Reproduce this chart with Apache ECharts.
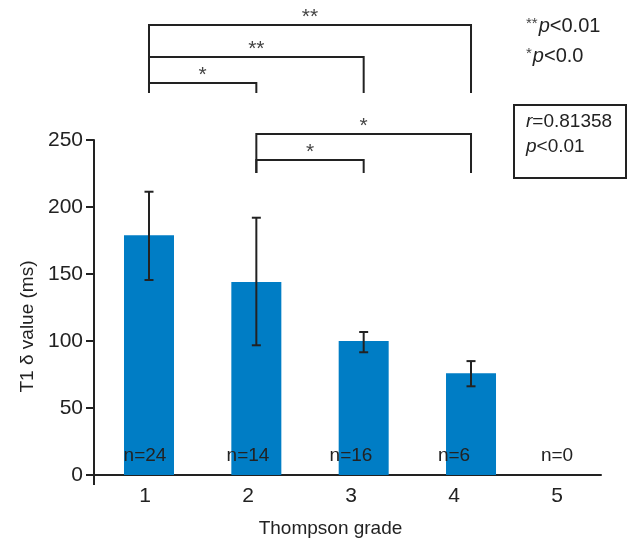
<!DOCTYPE html>
<html><head><meta charset="utf-8">
<script src="https://cdn.jsdelivr.net/npm/echarts@6/dist/echarts.min.js"></script>
<style>html,body{margin:0;padding:0;background:#fff}#c{width:627px;height:543px}</style>
</head><body><div id="c"></div>
<script>
// ---- data ----
const grades = [1, 2, 3, 4, 5];
const meanValues = [179, 144, 100, 76];           // grades 1-4 (grade 5 has no cases)
const errLow = [145.5, 96.8, 91.6, 66.2];
const errHigh = [211.4, 192, 106.7, 85];
const sampleLabels = ['n=24', 'n=14', 'n=16', 'n=6', 'n=0'];
const comparisons = [[1, 4, '**'], [1, 3, '**'], [1, 2, '*'], [2, 4, '*'], [2, 3, '*']];
const yTickValues = [0, 50, 100, 150, 200, 250];

// ---- layout / style ----
const FONT = "'Liberation Sans', Arial, sans-serif";
const INK = '#222';
const BLUE = '#007dc5';
const bracketTop = [25, 57, 83, 134, 160];
const bracketBottom = [93, 93, 93, 173, 173];

const chart = echarts.init(document.getElementById('c'), null, { renderer: 'canvas' });

const option = {
  animation: false,
  backgroundColor: '#fff',
  textStyle: { fontFamily: FONT },
  grid: { left: 94, right: 26, top: 140, bottom: 68 },
  xAxis: [
    {
      type: 'value', min: 0.505, max: 5.427,
      name: 'Thompson grade', nameLocation: 'middle', nameGap: 44,
      nameTextStyle: { fontSize: 19, color: INK, fontFamily: FONT, padding: [0, 34, 0, 0] },
      axisLine: { show: true, onZero: false, lineStyle: { color: INK, width: 2 } },
      axisTick: { show: true, customValues: [0.505], length: 10, lineStyle: { color: INK, width: 2 } },
      axisLabel: { customValues: grades, fontSize: 21, color: INK, fontFamily: FONT, margin: 11 },
      splitLine: { show: false }
    },
    { type: 'value', min: 0.4876, max: 5.211, show: false }
  ],
  yAxis: {
    type: 'value', min: 0, max: 250, interval: 50,
    name: 'T1 δ value (ms)', nameLocation: 'middle', nameGap: 55, nameRotate: 90,
    nameTextStyle: { fontSize: 19, color: INK, fontFamily: FONT, padding: [0, 38, 0, 0] },
    axisLine: { show: true, lineStyle: { color: INK, width: 2 } },
    axisTick: { show: true, length: 8, lineStyle: { color: INK, width: 2 } },
    axisLabel: { customValues: yTickValues, fontSize: 21, color: INK, fontFamily: FONT, margin: 11 },
    splitLine: { show: false }
  },
  series: [
    {
      type: 'bar', xAxisIndex: 1, barWidth: 50,
      itemStyle: { color: BLUE },
      data: meanValues.map((v, i) => [grades[i], v]),
      silent: true, z: 2
    },
    {
      type: 'custom', xAxisIndex: 1, z: 5, silent: true,
      data: meanValues.map((v, i) => [grades[i], errLow[i], errHigh[i]]),
      encode: { x: 0, y: [1, 2] },
      renderItem: function (params, api) {
        const lo = api.coord([api.value(0), api.value(1)]);
        const hi = api.coord([api.value(0), api.value(2)]);
        const w = 4.5;
        const style = { stroke: INK, lineWidth: 2, fill: null };
        return {
          type: 'group', children: [
            { type: 'line', shape: { x1: lo[0], y1: lo[1], x2: hi[0], y2: hi[1] }, style },
            { type: 'line', shape: { x1: lo[0] - w, y1: lo[1], x2: lo[0] + w, y2: lo[1] }, style },
            { type: 'line', shape: { x1: hi[0] - w, y1: hi[1], x2: hi[0] + w, y2: hi[1] }, style }
          ]
        };
      }
    },
    {
      type: 'custom', xAxisIndex: 0, z: 6, silent: true,
      data: sampleLabels.map((s, i) => [grades[i], 0]),
      encode: { x: 0, y: 1 },
      renderItem: function (params, api) {
        const p = api.coord([api.value(0), 0]);
        return {
          type: 'text',
          style: {
            x: p[0], y: p[1] - 19.5, text: sampleLabels[params.dataIndex],
            fill: INK, font: '19px ' + FONT, align: 'center', verticalAlign: 'middle'
          }
        };
      }
    },
    {
      type: 'custom', xAxisIndex: 1, z: 6, silent: true, clip: false,
      data: comparisons.map(c => [c[0], c[1], 0]),
      encode: { x: [0, 1], y: 2 },
      renderItem: function (params, api) {
        const i = params.dataIndex;
        const c = comparisons[i];
        const x1 = api.coord([c[0], 0])[0];
        const x2 = api.coord([c[1], 0])[0];
        const t = bracketTop[i], b = bracketBottom[i];
        return {
          type: 'group', children: [
            { type: 'polyline', shape: { points: [[x1, b], [x1, t], [x2, t], [x2, b]] },
              style: { stroke: INK, lineWidth: 2, fill: null } },
            { type: 'text', style: { x: (x1 + x2) / 2, y: t - 8, text: c[2], fill: '#444',
              font: '21px ' + FONT, align: 'center', verticalAlign: 'middle' } }
          ]
        };
      }
    }
  ],
  graphic: [
    { type: 'text', left: 526, top: 16, silent: true,
      style: { text: '{s|**}{i|p}{n|<0.01}', rich: {
        s: { fontSize: 15, fontFamily: FONT, fill: '#444', verticalAlign: 'top', padding: [0, 1, 6, 0] },
        i: { fontSize: 20, fontFamily: FONT, fontStyle: 'italic', fill: INK },
        n: { fontSize: 20, fontFamily: FONT, fill: INK } } } },
    { type: 'text', left: 526, top: 46, silent: true,
      style: { text: '{s|*}{i|p}{n|<0.0}', rich: {
        s: { fontSize: 15, fontFamily: FONT, fill: '#444', verticalAlign: 'top', padding: [0, 1, 6, 0] },
        i: { fontSize: 20, fontFamily: FONT, fontStyle: 'italic', fill: INK },
        n: { fontSize: 20, fontFamily: FONT, fill: INK } } } },
    { type: 'rect', left: 513, top: 104, silent: true,
      shape: { width: 112, height: 73 }, style: { fill: '#fff', stroke: INK, lineWidth: 2 } },
    { type: 'text', left: 526, top: 109, silent: true,
      style: { text: '{i|r}{n|=0.81358}\n{i|p}{n|<0.01}', lineHeight: 25, rich: {
        i: { fontSize: 19, fontFamily: FONT, fontStyle: 'italic', fill: INK, lineHeight: 25 },
        n: { fontSize: 19, fontFamily: FONT, fill: INK, lineHeight: 25 } } } }
  ]
};
chart.setOption(option);
</script>
</body></html>
